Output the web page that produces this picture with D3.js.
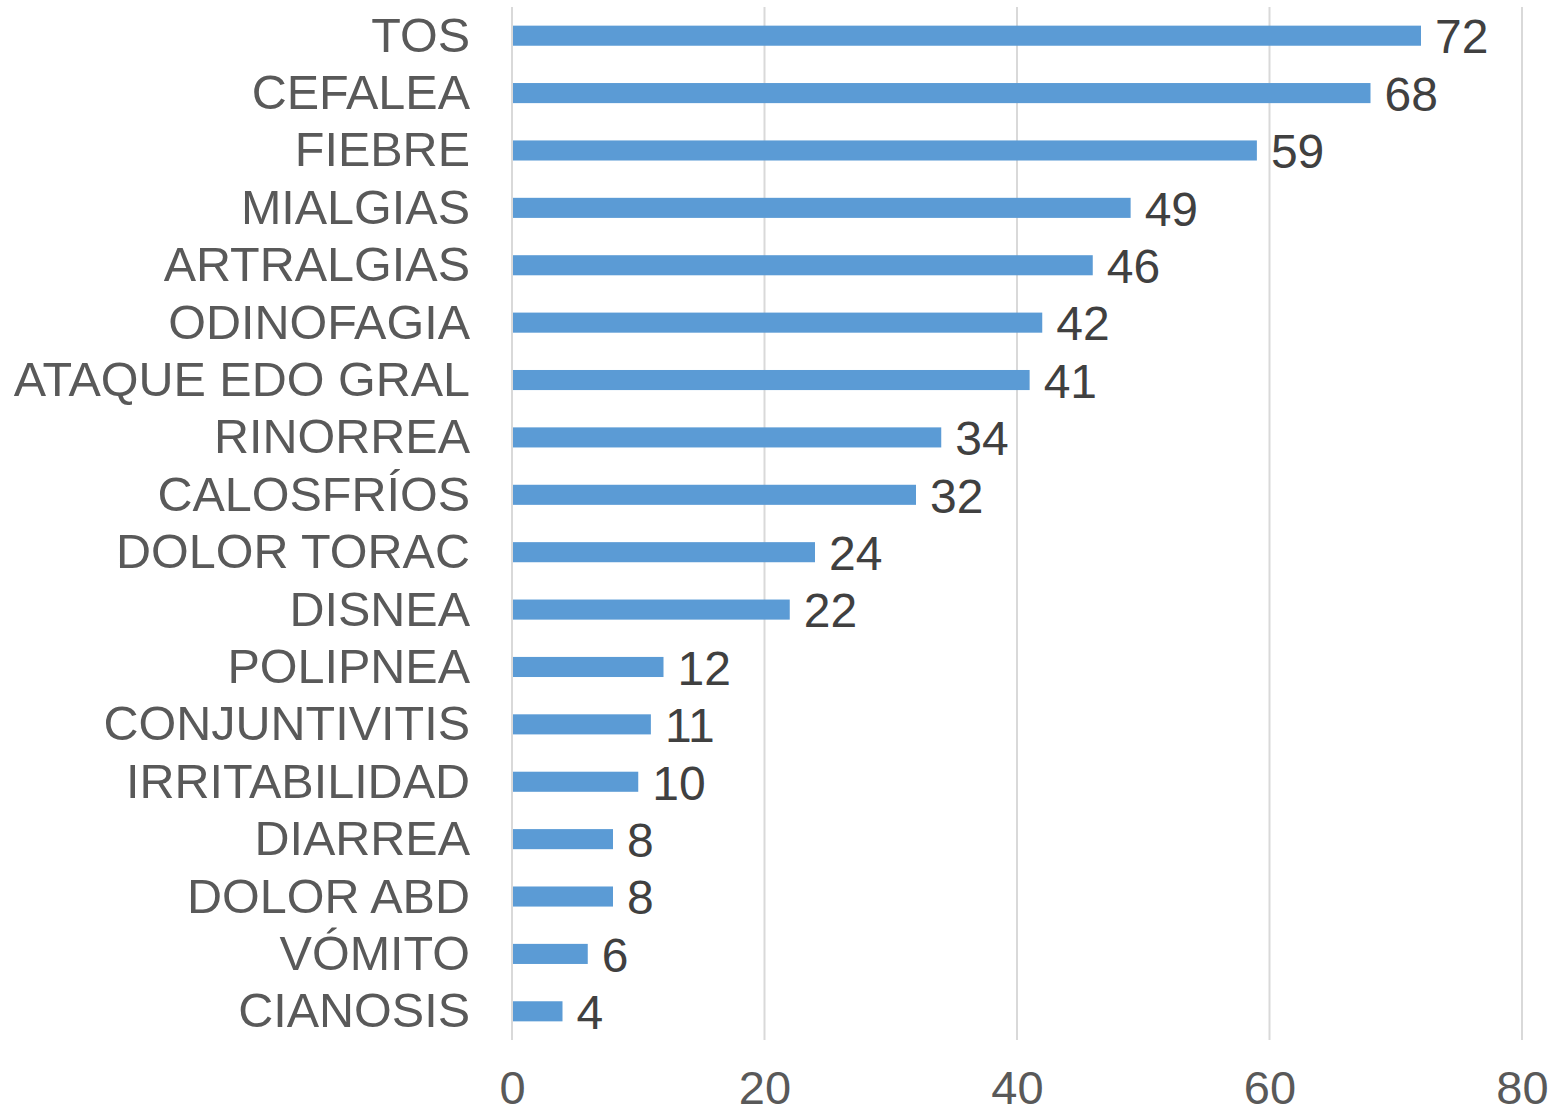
<!DOCTYPE html>
<html>
<head>
<meta charset="utf-8">
<script src="https://cdn.jsdelivr.net/npm/d3@7"></script>
<style>
  body { margin:0; background:#fff; }
  svg { display:block; font-family:"Liberation Sans", Arial, sans-serif; }
</style>
</head>
<body>
<div id="chart"></div>
<script>
// data
const categories = ["TOS","CEFALEA","FIEBRE","MIALGIAS","ARTRALGIAS","ODINOFAGIA",
  "ATAQUE EDO GRAL","RINORREA","CALOSFRÍOS","DOLOR TORAC","DISNEA","POLIPNEA",
  "CONJUNTIVITIS","IRRITABILIDAD","DIARREA","DOLOR ABD","VÓMITO","CIANOSIS"];
const values = [72,68,59,49,46,42,41,34,32,24,22,12,11,10,8,8,6,4];
const xTicks = [0,20,40,60,80];

const W = 1552, H = 1115;
// plot area (window.top is taken, so prefix these)
const plotLeft = 512, plotRight = 1522, plotTop = 7, plotBottom = 1040;

let svg = d3.select("#chart").append("svg")
  .attr("width",W)
  .attr("height",H);

let x = d3.scaleLinear().domain([0,80]).range([plotLeft,plotRight]);
let y = d3.scaleBand().domain(categories).range([plotTop,plotBottom]).paddingInner(0.65).paddingOuter(0.325);

// gridlines
svg.append("g")
  .selectAll("line")
  .data(xTicks)
  .enter()
  .append("line")
  .attr("x1",(d)=> x(d))
  .attr("x2",(d)=> x(d))
  .attr("y1",plotTop)
  .attr("y2",plotBottom)
  .style("stroke","#d9d9d9")
  .style("stroke-width",2);

// bars
svg.append("g")
  .selectAll("rect")
  .data(values)
  .enter()
  .append("rect")
  .attr("x",x(0) + 1)
  .attr("y",(d,i)=> y(categories[i]))
  .attr("width",(d)=> x(d) - x(0) - 1)
  .attr("height",y.bandwidth())
  .style("fill","#5b9bd5");

// value labels
svg.append("g")
  .selectAll("text")
  .data(values)
  .enter()
  .append("text")
  .attr("x",(d)=> x(d) + 14)
  .attr("y",(d,i)=> y(categories[i]) + y.bandwidth()/2)
  .attr("dy","0.37em")
  .style("font-size","48px")
  .style("fill","#404040")
  .text((d)=> d);

// category axis (no line, just labels)
let yAxis = d3.axisLeft(y).tickSize(0).tickPadding(42);
let gy = svg.append("g")
  .attr("transform","translate(" + plotLeft + ",0)")
  .call(yAxis);
gy.select(".domain").remove();
gy.selectAll("text")
  .attr("dy","0.33em")
  .style("font-family","inherit")
  .style("font-size","48.5px")
  .style("fill","#595959");

// value axis
let xAxis = d3.axisBottom(x).tickValues(xTicks).tickSize(0).tickPadding(0);
let gx = svg.append("g")
  .attr("transform","translate(0,1104)")
  .call(xAxis);
gx.select(".domain").remove();
gx.selectAll("text")
  .attr("dy","0")
  .attr("y",0)
  .style("font-family","inherit")
  .style("font-size","47px")
  .style("fill","#595959");
</script>
</body>
</html>
